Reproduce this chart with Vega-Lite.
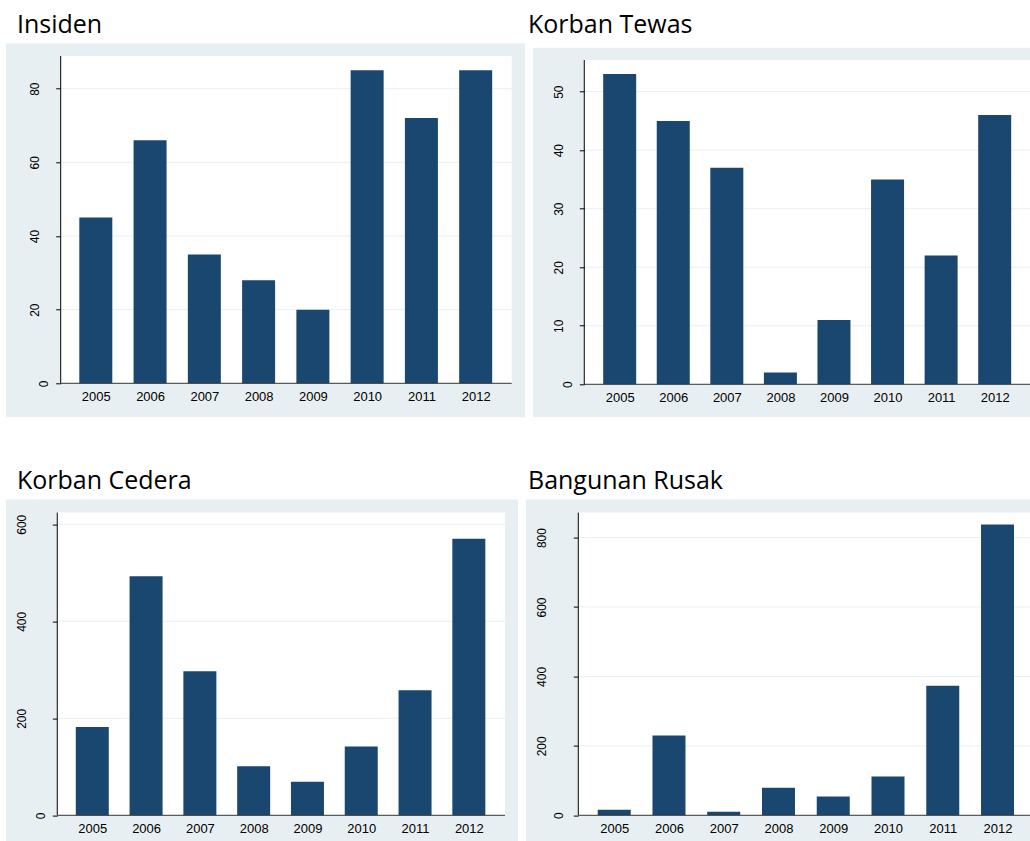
{
  "$schema": "https://vega.github.io/schema/vega-lite/v6.json",
  "background": "#ffffff",
  "padding": {"left": 6, "top": 13.3, "right": 0, "bottom": 0},
  "datasets": {
    "years": [
      {"year": 2005, "insiden": 45, "tewas": 53, "cedera": 182, "rusak": 16},
      {"year": 2006, "insiden": 66, "tewas": 45, "cedera": 493, "rusak": 230},
      {"year": 2007, "insiden": 35, "tewas": 37, "cedera": 297, "rusak": 10},
      {"year": 2008, "insiden": 28, "tewas": 2, "cedera": 101, "rusak": 79},
      {"year": 2009, "insiden": 20, "tewas": 11, "cedera": 69, "rusak": 54},
      {"year": 2010, "insiden": 85, "tewas": 35, "cedera": 142, "rusak": 112},
      {"year": 2011, "insiden": 72, "tewas": 22, "cedera": 258, "rusak": 373},
      {"year": 2012, "insiden": 85, "tewas": 46, "cedera": 570, "rusak": 838}
    ]
  },
  "spacing": 51.3,
  "vconcat": [
    {
      "spacing": 3,
      "hconcat": [
        {
          "width": 519,
          "height": 374,
          "title": {"text": "Insiden", "anchor": "start", "dx": 11, "offset": 5, "font": "Open Sans", "fontSize": 25, "fontWeight": "normal", "color": "#000000"},
          "resolve": {"axis": {"x": "independent", "y": "independent"}},
          "layer": [
            {"data": {"values": [{}]}, "mark": {"type": "rect", "color": "#ffffff"},
             "encoding": {"x": {"datum": 2004.353, "type": "quantitative", "axis": null}, "x2": {"datum": 2012.664},
                          "y": {"datum": 0, "type": "quantitative", "axis": null}, "y2": {"datum": 88.87}}},
            {"data": {"values": [{}]}, "mark": {"type": "rule", "color": "#E8EFF2"},
             "encoding": {"x": {"datum": 2004.353, "type": "quantitative", "axis": null}, "x2": {"datum": 2012.664}, "y": {"datum": 20, "type": "quantitative", "axis": null}}},
            {"data": {"values": [{}]}, "mark": {"type": "rule", "color": "#E8EFF2"},
             "encoding": {"x": {"datum": 2004.353, "type": "quantitative", "axis": null}, "x2": {"datum": 2012.664}, "y": {"datum": 40, "type": "quantitative", "axis": null}}},
            {"data": {"values": [{}]}, "mark": {"type": "rule", "color": "#E8EFF2"},
             "encoding": {"x": {"datum": 2004.353, "type": "quantitative", "axis": null}, "x2": {"datum": 2012.664}, "y": {"datum": 60, "type": "quantitative", "axis": null}}},
            {"data": {"values": [{}]}, "mark": {"type": "rule", "color": "#E8EFF2"},
             "encoding": {"x": {"datum": 2004.353, "type": "quantitative", "axis": null}, "x2": {"datum": 2012.664}, "y": {"datum": 80, "type": "quantitative", "axis": null}}},
            {
              "data": {"name": "years"},
              "mark": {"type": "bar", "orient": "vertical", "size": 33, "color": "#1A476F"},
              "encoding": {
                "x": {"field": "year", "type": "quantitative",
                      "scale": {"domain": [2003.345, 2012.909], "nice": false, "zero": false, "padding": 0},
                      "axis": {"orient": "bottom", "offset": -34, "values": [2005, 2006, 2007, 2008, 2009, 2010, 2011, 2012], "format": "d", "domain": false, "grid": false, "ticks": false, "labelPadding": 7, "labelFont": "Liberation Sans", "labelFontSize": 13, "labelColor": "#000000", "labelAngle": 0, "labelFlush": false, "labelOverlap": false, "title": null}},
                "y": {"field": "insiden", "type": "quantitative",
                      "scale": {"domain": [-9.23, 92.31], "nice": false, "zero": false},
                      "axis": {"orient": "left", "offset": -54.7, "values": [0, 20, 40, 60, 80], "domain": false, "grid": false, "ticks": true, "tickSize": 5, "tickColor": "#000000", "labelAngle": -90, "labelAlign": "center", "labelBaseline": "bottom", "labelPadding": {"condition": {"test": "datum.value === 0", "value": 5}, "value": 14}, "labelFont": "Liberation Sans", "labelFontSize": 12, "labelColor": "#000000", "labelFlush": false, "labelOverlap": false, "title": null}}
              }
            },
            {"data": {"values": [{}]}, "mark": {"type": "rule", "color": "#000000", "strokeWidth": 1},
             "encoding": {"x": {"datum": 2004.353, "type": "quantitative", "axis": null}, "y": {"datum": 0, "type": "quantitative", "axis": null}, "y2": {"datum": 88.87}}},
            {"data": {"values": [{}]}, "mark": {"type": "rule", "color": "#333333", "strokeWidth": 1},
             "encoding": {"x": {"datum": 2004.353, "type": "quantitative", "axis": null}, "x2": {"datum": 2012.664}, "y": {"datum": 0, "type": "quantitative", "axis": null}}}
          ]
        },
        {
          "width": 497,
          "height": 374,
          "view": {"fill": "#ffffff", "stroke": null},
          "title": {"text": "Korban Tewas", "anchor": "start", "dx": -5, "offset": 5, "font": "Open Sans", "fontSize": 25, "fontWeight": "normal", "color": "#000000"},
          "resolve": {"axis": {"x": "independent", "y": "independent"}},
          "layer": [
            {"data": {"values": [{}]}, "mark": {"type": "rect", "color": "#E8EFF2"},
             "encoding": {"x": {"datum": 2003.382, "type": "quantitative", "axis": null}, "x2": {"datum": 2012.659},
                          "y": {"datum": -5.64, "type": "quantitative", "axis": null}, "y2": {"datum": 57.52}}},
            {"data": {"values": [{}]}, "mark": {"type": "rect", "color": "#ffffff"},
             "encoding": {"x": {"datum": 2004.339, "type": "quantitative", "axis": null}, "x2": {"datum": 2012.659},
                          "y": {"datum": 0, "type": "quantitative", "axis": null}, "y2": {"datum": 55.4}}},
            {"data": {"values": [{}]}, "mark": {"type": "rule", "color": "#E8EFF2"},
             "encoding": {"x": {"datum": 2004.339, "type": "quantitative", "axis": null}, "x2": {"datum": 2012.659}, "y": {"datum": 10, "type": "quantitative", "axis": null}}},
            {"data": {"values": [{}]}, "mark": {"type": "rule", "color": "#E8EFF2"},
             "encoding": {"x": {"datum": 2004.339, "type": "quantitative", "axis": null}, "x2": {"datum": 2012.659}, "y": {"datum": 20, "type": "quantitative", "axis": null}}},
            {"data": {"values": [{}]}, "mark": {"type": "rule", "color": "#E8EFF2"},
             "encoding": {"x": {"datum": 2004.339, "type": "quantitative", "axis": null}, "x2": {"datum": 2012.659}, "y": {"datum": 30, "type": "quantitative", "axis": null}}},
            {"data": {"values": [{}]}, "mark": {"type": "rule", "color": "#E8EFF2"},
             "encoding": {"x": {"datum": 2004.339, "type": "quantitative", "axis": null}, "x2": {"datum": 2012.659}, "y": {"datum": 40, "type": "quantitative", "axis": null}}},
            {"data": {"values": [{}]}, "mark": {"type": "rule", "color": "#E8EFF2"},
             "encoding": {"x": {"datum": 2004.339, "type": "quantitative", "axis": null}, "x2": {"datum": 2012.659}, "y": {"datum": 50, "type": "quantitative", "axis": null}}},
            {
              "data": {"name": "years"},
              "mark": {"type": "bar", "orient": "vertical", "size": 33, "color": "#1A476F"},
              "encoding": {
                "x": {"field": "year", "type": "quantitative",
                      "scale": {"domain": [2003.382, 2012.659], "nice": false, "zero": false, "padding": 0},
                      "axis": {"orient": "bottom", "offset": -33, "zindex": 1, "values": [2005, 2006, 2007, 2008, 2009, 2010, 2011, 2012], "format": "d", "domain": false, "grid": false, "ticks": false, "labelPadding": 7, "labelFont": "Liberation Sans", "labelFontSize": 13, "labelColor": "#000000", "labelAngle": 0, "labelFlush": false, "labelOverlap": false, "title": null}},
                "y": {"field": "tewas", "type": "quantitative",
                      "scale": {"domain": [-5.64, 58.26], "nice": false, "zero": false},
                      "axis": {"orient": "left", "offset": -51.3, "zindex": 1, "values": [0, 10, 20, 30, 40, 50], "domain": false, "grid": false, "ticks": true, "tickSize": 5, "tickColor": "#000000", "labelAngle": -90, "labelAlign": "center", "labelBaseline": "bottom", "labelPadding": {"condition": {"test": "datum.value === 0", "value": 5}, "value": 13.6}, "labelFont": "Liberation Sans", "labelFontSize": 12, "labelColor": "#000000", "labelFlush": false, "labelOverlap": false, "title": null}}
              }
            },
            {"data": {"values": [{}]}, "mark": {"type": "rule", "color": "#000000", "strokeWidth": 1},
             "encoding": {"x": {"datum": 2004.339, "type": "quantitative", "axis": null}, "y": {"datum": 0, "type": "quantitative", "axis": null}, "y2": {"datum": 55.4}}},
            {"data": {"values": [{}]}, "mark": {"type": "rule", "color": "#333333", "strokeWidth": 1},
             "encoding": {"x": {"datum": 2004.339, "type": "quantitative", "axis": null}, "x2": {"datum": 2012.659}, "y": {"datum": 0, "type": "quantitative", "axis": null}}}
          ]
        }
      ]
    },
    {
      "spacing": 8,
      "hconcat": [
        {
          "width": 512,
          "height": 342,
          "title": {"text": "Korban Cedera", "anchor": "start", "dx": 11, "offset": 6, "font": "Open Sans", "fontSize": 25, "fontWeight": "normal", "color": "#000000"},
          "resolve": {"axis": {"x": "independent", "y": "independent"}},
          "layer": [
            {"data": {"values": [{}]}, "mark": {"type": "rect", "color": "#ffffff"},
             "encoding": {"x": {"datum": 2004.349, "type": "quantitative", "axis": null}, "x2": {"datum": 2012.672},
                          "y": {"datum": 0, "type": "quantitative", "axis": null}, "y2": {"datum": 624.1}}},
            {"data": {"values": [{}]}, "mark": {"type": "rule", "color": "#E8EFF2"},
             "encoding": {"x": {"datum": 2004.349, "type": "quantitative", "axis": null}, "x2": {"datum": 2012.672}, "y": {"datum": 200, "type": "quantitative", "axis": null}}},
            {"data": {"values": [{}]}, "mark": {"type": "rule", "color": "#E8EFF2"},
             "encoding": {"x": {"datum": 2004.349, "type": "quantitative", "axis": null}, "x2": {"datum": 2012.672}, "y": {"datum": 400, "type": "quantitative", "axis": null}}},
            {"data": {"values": [{}]}, "mark": {"type": "rule", "color": "#E8EFF2"},
             "encoding": {"x": {"datum": 2004.349, "type": "quantitative", "axis": null}, "x2": {"datum": 2012.672}, "y": {"datum": 600, "type": "quantitative", "axis": null}}},
            {
              "data": {"name": "years"},
              "mark": {"type": "bar", "orient": "vertical", "size": 33, "color": "#1A476F"},
              "encoding": {
                "x": {"field": "year", "type": "quantitative",
                      "scale": {"domain": [2003.396, 2012.914], "nice": false, "zero": false, "padding": 0},
                      "axis": {"orient": "bottom", "offset": -26.3, "values": [2005, 2006, 2007, 2008, 2009, 2010, 2011, 2012], "format": "d", "domain": false, "grid": false, "ticks": false, "labelPadding": 7, "labelFont": "Liberation Sans", "labelFontSize": 13, "labelColor": "#000000", "labelAngle": 0, "labelFlush": false, "labelOverlap": false, "title": null}},
                "y": {"field": "cedera", "type": "quantitative",
                      "scale": {"domain": [-54.2, 650.9], "nice": false, "zero": false},
                      "axis": {"orient": "left", "offset": -51.3, "values": [0, 200, 400, 600], "domain": false, "grid": false, "ticks": true, "tickSize": 5, "tickColor": "#000000", "labelAngle": -90, "labelAlign": "center", "labelBaseline": "bottom", "labelPadding": {"condition": {"test": "datum.value === 0", "value": 5}, "value": 24}, "labelFont": "Liberation Sans", "labelFontSize": 12, "labelColor": "#000000", "labelFlush": false, "labelOverlap": false, "title": null}}
              }
            },
            {"data": {"values": [{}]}, "mark": {"type": "rule", "color": "#000000", "strokeWidth": 1},
             "encoding": {"x": {"datum": 2004.349, "type": "quantitative", "axis": null}, "y": {"datum": 0, "type": "quantitative", "axis": null}, "y2": {"datum": 624.1}}},
            {"data": {"values": [{}]}, "mark": {"type": "rule", "color": "#333333", "strokeWidth": 1},
             "encoding": {"x": {"datum": 2004.349, "type": "quantitative", "axis": null}, "x2": {"datum": 2012.672}, "y": {"datum": 0, "type": "quantitative", "axis": null}}}
          ]
        },
        {
          "width": 504,
          "height": 342,
          "title": {"text": "Bangunan Rusak", "anchor": "start", "dx": 2, "offset": 6, "font": "Open Sans", "fontSize": 25, "fontWeight": "normal", "color": "#000000"},
          "resolve": {"axis": {"x": "independent", "y": "independent"}},
          "layer": [
            {"data": {"values": [{}]}, "mark": {"type": "rect", "color": "#ffffff"},
             "encoding": {"x": {"datum": 2004.344, "type": "quantitative", "axis": null}, "x2": {"datum": 2012.593},
                          "y": {"datum": 0, "type": "quantitative", "axis": null}, "y2": {"datum": 872.1}}},
            {"data": {"values": [{}]}, "mark": {"type": "rule", "color": "#E8EFF2"},
             "encoding": {"x": {"datum": 2004.344, "type": "quantitative", "axis": null}, "x2": {"datum": 2012.593}, "y": {"datum": 200, "type": "quantitative", "axis": null}}},
            {"data": {"values": [{}]}, "mark": {"type": "rule", "color": "#E8EFF2"},
             "encoding": {"x": {"datum": 2004.344, "type": "quantitative", "axis": null}, "x2": {"datum": 2012.593}, "y": {"datum": 400, "type": "quantitative", "axis": null}}},
            {"data": {"values": [{}]}, "mark": {"type": "rule", "color": "#E8EFF2"},
             "encoding": {"x": {"datum": 2004.344, "type": "quantitative", "axis": null}, "x2": {"datum": 2012.593}, "y": {"datum": 600, "type": "quantitative", "axis": null}}},
            {"data": {"values": [{}]}, "mark": {"type": "rule", "color": "#E8EFF2"},
             "encoding": {"x": {"datum": 2004.344, "type": "quantitative", "axis": null}, "x2": {"datum": 2012.593}, "y": {"datum": 800, "type": "quantitative", "axis": null}}},
            {
              "data": {"name": "years"},
              "mark": {"type": "bar", "orient": "vertical", "size": 33, "color": "#1A476F"},
              "encoding": {
                "x": {"field": "year", "type": "quantitative",
                      "scale": {"domain": [2003.389, 2012.593], "nice": false, "zero": false, "padding": 0},
                      "axis": {"orient": "bottom", "offset": -26.3, "values": [2005, 2006, 2007, 2008, 2009, 2010, 2011, 2012], "format": "d", "domain": false, "grid": false, "ticks": false, "labelPadding": 7, "labelFont": "Liberation Sans", "labelFontSize": 13, "labelColor": "#000000", "labelAngle": 0, "labelFlush": false, "labelOverlap": false, "title": null}},
                "y": {"field": "rusak", "type": "quantitative",
                      "scale": {"domain": [-75.8, 909.5], "nice": false, "zero": false},
                      "axis": {"orient": "left", "offset": -52.3, "values": [0, 200, 400, 600, 800], "domain": false, "grid": false, "ticks": true, "tickSize": 5, "tickColor": "#000000", "labelAngle": -90, "labelAlign": "center", "labelBaseline": "bottom", "labelPadding": {"condition": {"test": "datum.value === 0", "value": 7.6}, "value": 25}, "labelFont": "Liberation Sans", "labelFontSize": 12, "labelColor": "#000000", "labelFlush": false, "labelOverlap": false, "title": null}}
              }
            },
            {"data": {"values": [{}]}, "mark": {"type": "rule", "color": "#000000", "strokeWidth": 1},
             "encoding": {"x": {"datum": 2004.344, "type": "quantitative", "axis": null}, "y": {"datum": 0, "type": "quantitative", "axis": null}, "y2": {"datum": 872.1}}},
            {"data": {"values": [{}]}, "mark": {"type": "rule", "color": "#333333", "strokeWidth": 1},
             "encoding": {"x": {"datum": 2004.344, "type": "quantitative", "axis": null}, "x2": {"datum": 2012.593}, "y": {"datum": 0, "type": "quantitative", "axis": null}}}
          ]
        }
      ]
    }
  ],
  "config": {
    "view": {"fill": "#E8EFF2", "stroke": null}
  }
}
